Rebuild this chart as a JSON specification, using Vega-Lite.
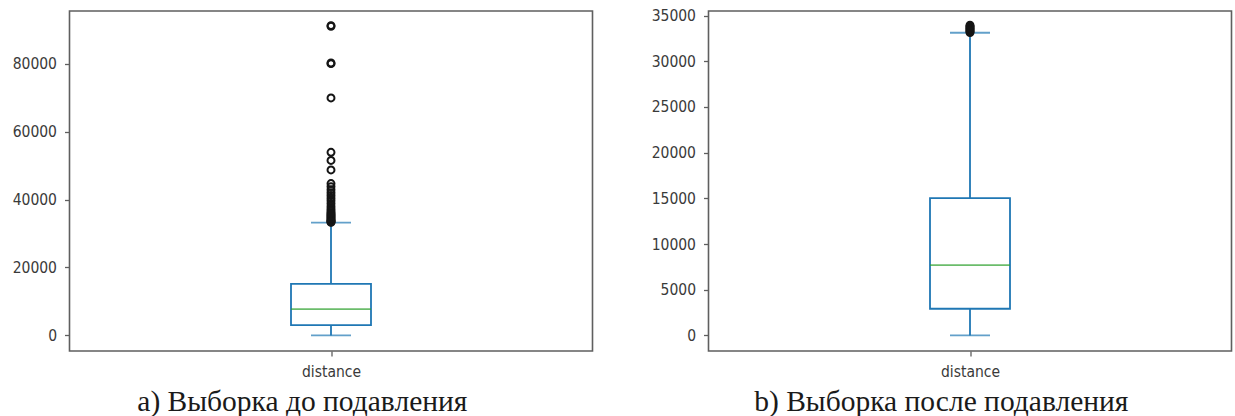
{
  "$schema": "https://vega.github.io/schema/vega-lite/v6.json",
  "padding": {"left": 10.5, "top": 7, "right": 4, "bottom": 0},
  "spacing": 56,
  "background": "white",
  "config": {
    "view": {"stroke": "#5f5f5f", "strokeWidth": 1.6},
    "axis": {"labelFont": "DejaVu Sans Condensed", "labelFontSize": 15.5, "labelColor": "#3a3a3a", "tickColor": "#5f5f5f", "tickWidth": 1.3, "domain": false, "grid": false},
    "title": {"font": "Liberation Serif", "fontSize": 29.5, "fontWeight": "normal", "color": "#1a1a1a", "orient": "bottom", "frame": "bounds", "anchor": "middle", "offset": 8}
  },
  "datasets": {
    "box_a": [{"variable": "distance", "lower": 0, "q1": 3000, "median": 7750, "q3": 15150, "upper": 33200}],
    "out_a": [
      {"variable": "distance", "value": 91000}, {"variable": "distance", "value": 91200},
      {"variable": "distance", "value": 80000}, {"variable": "distance", "value": 80200},
      {"variable": "distance", "value": 69900},
      {"variable": "distance", "value": 53900}, {"variable": "distance", "value": 51500}, {"variable": "distance", "value": 48700},
      {"variable": "distance", "value": 44700}, {"variable": "distance", "value": 43800}, {"variable": "distance", "value": 42900},
      {"variable": "distance", "value": 42000}, {"variable": "distance", "value": 41200}, {"variable": "distance", "value": 40400},
      {"variable": "distance", "value": 39600}, {"variable": "distance", "value": 38800}, {"variable": "distance", "value": 38000},
      {"variable": "distance", "value": 37300}, {"variable": "distance", "value": 36700}, {"variable": "distance", "value": 36200},
      {"variable": "distance", "value": 35800}, {"variable": "distance", "value": 35500}, {"variable": "distance", "value": 35200},
      {"variable": "distance", "value": 34900}, {"variable": "distance", "value": 34600}, {"variable": "distance", "value": 34300},
      {"variable": "distance", "value": 34000}, {"variable": "distance", "value": 33800}, {"variable": "distance", "value": 33600},
      {"variable": "distance", "value": 33400}, {"variable": "distance", "value": 33300}
    ],
    "box_b": [{"variable": "distance", "lower": 0, "q1": 2920, "median": 7690, "q3": 15030, "upper": 33120}],
    "out_b": [
      {"variable": "distance", "value": 33150}, {"variable": "distance", "value": 33250}, {"variable": "distance", "value": 33350},
      {"variable": "distance", "value": 33450}, {"variable": "distance", "value": 33550}, {"variable": "distance", "value": 33650},
      {"variable": "distance", "value": 33750}, {"variable": "distance", "value": 33850}, {"variable": "distance", "value": 33950}
    ]
  },
  "hconcat": [
    {
      "width": 523,
      "height": 340,
      "title": {"text": "a) Выборка до подавления"},
      "encoding": {
        "x": {"field": "variable", "type": "nominal", "scale": {"type": "point"}, "axis": {"title": null, "labelAngle": 0, "tickSize": 5, "labelPadding": 8, "labelFont": "DejaVu Sans Condensed", "labelFontSize": 15.5, "labelColor": "#3a3a3a"}}
      },
      "layer": [
        {
          "data": {"name": "box_a"},
          "mark": {"type": "rule", "color": "#1f77b4", "strokeWidth": 1.8},
          "encoding": {
            "y": {"field": "lower", "type": "quantitative", "title": null, "scale": {"domain": [-4600, 95500], "nice": false, "zero": false}, "axis": {"values": [0, 20000, 40000, 60000, 80000], "format": "d", "tickSize": 5, "labelPadding": 8, "labelFont": "DejaVu Sans Condensed", "labelFontSize": 15.5, "labelColor": "#3a3a3a"}},
            "y2": {"field": "upper"}
          }
        },
        {
          "data": {"name": "box_a"},
          "mark": {"type": "bar", "size": 80, "fill": "white", "stroke": "#1f77b4", "strokeWidth": 1.8},
          "encoding": {"y": {"field": "q1", "type": "quantitative", "title": null}, "y2": {"field": "q3"}}
        },
        {
          "data": {"name": "box_a"},
          "mark": {"type": "tick", "size": 80, "thickness": 1.8, "color": "#2ca02c"},
          "encoding": {"y": {"field": "median", "type": "quantitative", "title": null}}
        },
        {
          "data": {"name": "box_a"},
          "mark": {"type": "tick", "size": 40, "thickness": 1.8, "color": "#1f77b4"},
          "encoding": {"y": {"field": "lower", "type": "quantitative", "title": null}}
        },
        {
          "data": {"name": "box_a"},
          "mark": {"type": "tick", "size": 40, "thickness": 1.8, "color": "#1f77b4"},
          "encoding": {"y": {"field": "upper", "type": "quantitative", "title": null}}
        },
        {
          "data": {"name": "out_a"},
          "mark": {"type": "point", "shape": "circle", "filled": false, "stroke": "#151515", "strokeWidth": 2, "size": 48, "opacity": 1},
          "encoding": {"y": {"field": "value", "type": "quantitative", "title": null}}
        }
      ]
    },
    {
      "width": 523,
      "height": 340,
      "title": {"text": "b) Выборка после подавления"},
      "encoding": {
        "x": {"field": "variable", "type": "nominal", "scale": {"type": "point"}, "axis": {"title": null, "labelAngle": 0, "tickSize": 5, "labelPadding": 8, "labelFont": "DejaVu Sans Condensed", "labelFontSize": 15.5, "labelColor": "#3a3a3a"}}
      },
      "layer": [
        {
          "data": {"name": "box_b"},
          "mark": {"type": "rule", "color": "#1f77b4", "strokeWidth": 1.8},
          "encoding": {
            "y": {"field": "lower", "type": "quantitative", "title": null, "scale": {"domain": [-1700, 35500], "nice": false, "zero": false}, "axis": {"values": [0, 5000, 10000, 15000, 20000, 25000, 30000, 35000], "format": "d", "tickSize": 5, "labelPadding": 8, "labelFont": "DejaVu Sans Condensed", "labelFontSize": 15.5, "labelColor": "#3a3a3a"}},
            "y2": {"field": "upper"}
          }
        },
        {
          "data": {"name": "box_b"},
          "mark": {"type": "bar", "size": 80, "fill": "white", "stroke": "#1f77b4", "strokeWidth": 1.8},
          "encoding": {"y": {"field": "q1", "type": "quantitative", "title": null}, "y2": {"field": "q3"}}
        },
        {
          "data": {"name": "box_b"},
          "mark": {"type": "tick", "size": 80, "thickness": 1.8, "color": "#2ca02c"},
          "encoding": {"y": {"field": "median", "type": "quantitative", "title": null}}
        },
        {
          "data": {"name": "box_b"},
          "mark": {"type": "tick", "size": 40, "thickness": 1.8, "color": "#1f77b4"},
          "encoding": {"y": {"field": "lower", "type": "quantitative", "title": null}}
        },
        {
          "data": {"name": "box_b"},
          "mark": {"type": "tick", "size": 40, "thickness": 1.8, "color": "#1f77b4"},
          "encoding": {"y": {"field": "upper", "type": "quantitative", "title": null}}
        },
        {
          "data": {"name": "out_b"},
          "mark": {"type": "point", "shape": "circle", "filled": false, "stroke": "#151515", "strokeWidth": 2, "size": 48, "opacity": 1},
          "encoding": {"y": {"field": "value", "type": "quantitative", "title": null}}
        }
      ]
    }
  ]
}
